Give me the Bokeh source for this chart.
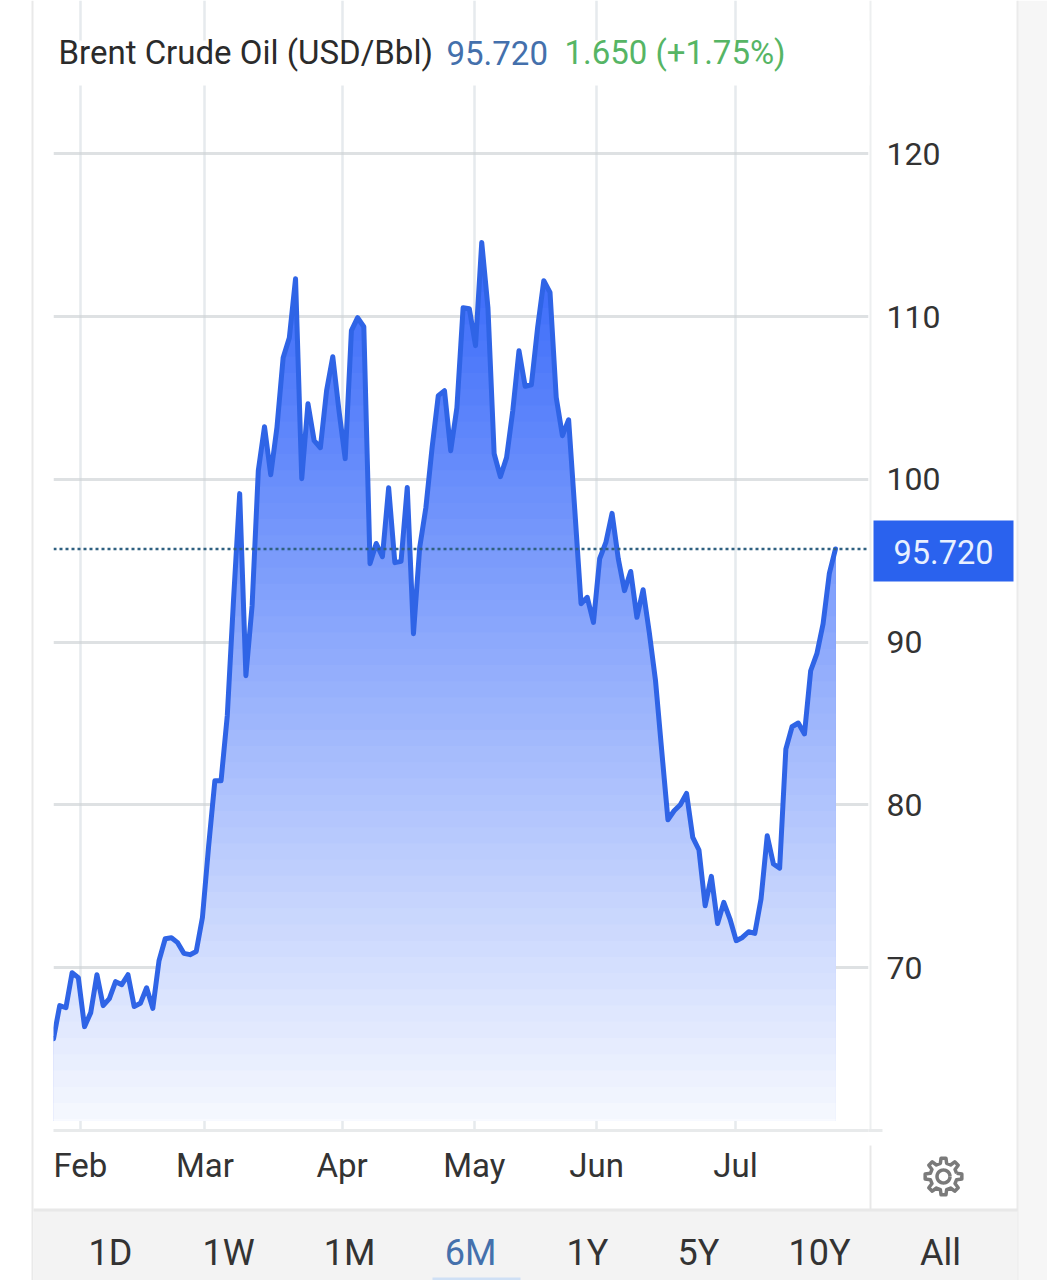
import numpy as np
from bokeh.plotting import figure
from bokeh.models import Column, Row
from bokeh.embed import file_html
from bokeh.resources import INLINE
from bokeh.core.properties import value
from bokeh.models import Range1d, FixedTicker, LinearAxis, Grid, Span

# ---- data (one value per trading session) ----
prices = [65.64, 67.67, 67.54, 69.69, 69.39, 66.38, 67.24, 69.57, 67.67, 68.10,
          69.14, 68.96, 69.57, 67.62, 67.81, 68.77, 67.50, 70.43, 71.78, 71.84,
          71.54, 70.88, 70.80, 71.00, 73.09, 77.49, 81.49, 81.49, 85.48, 92.54,
          99.12, 87.94, 92.24, 100.53, 103.23, 100.28, 103.17, 107.47, 108.70, 112.32,
          100.04, 104.64, 102.37, 101.94, 105.44, 107.53, 104.21, 101.27, 109.13, 109.93,
          109.37, 94.82, 96.06, 95.25, 99.48, 94.88, 94.96, 99.50, 90.52, 95.80,
          98.26, 101.94, 105.14, 105.44, 101.76, 104.40, 110.54, 110.48, 108.21, 114.55,
          110.54, 101.57, 100.16, 101.33, 104.21, 107.90, 105.71, 105.81, 109.31, 112.20,
          111.48, 105.03, 102.68, 103.66, 98.07, 92.36, 92.75, 91.21, 95.12, 96.12,
          97.91, 95.12, 93.16, 94.34, 91.52, 93.22, 90.58, 87.63, 83.33, 79.09,
          79.64, 80.01, 80.71, 78.00, 77.23, 73.81, 75.61, 72.72, 74.01, 72.99,
          71.66, 71.86, 72.21, 72.11, 74.22, 78.11, 76.37, 76.12, 83.43, 84.80,
          85.03, 84.36, 88.24, 89.29, 91.13, 94.20, 95.72]
month_labels = ["Feb", "Mar", "Apr", "May", "Jun", "Jul"]
month_sessions = [4.34, 24.4, 46.5, 67.8, 87.5, 109.9]
price_ticks = [70, 80, 90, 100, 110, 120]
last_price = 95.72
title_name = "Brent Crude Oil (USD/Bbl)"
title_price = "95.720"
title_change = "1.650 (+1.75%)"
price_label = "95.720"
ranges = ["1D", "1W", "1M", "6M", "1Y", "5Y", "10Y", "All"]

FONT = "Roboto"
W, H = 1047, 1280
FL, FR, FT, FB = 53, 868, 0, 1130        # plot frame, in page pixels

n = len(prices)
step = 782 / (n - 1)
x_end = (FR - FL) / step
y_end = 60 + (FB - FT) / 16.28

p = figure(width=W, height=H, output_backend="svg", toolbar_location=None,
           x_range=Range1d(0, x_end), y_range=Range1d(60, y_end),
           x_axis_location=None, y_axis_location=None,
           min_border_left=FL, min_border_right=W - FR,
           min_border_top=0, min_border_bottom=H - FB,
           outline_line_color=None, background_fill_color="white",
           border_fill_color="white")
p.grid.visible = False

month_ticker = FixedTicker(ticks=month_sessions)
price_ticker = FixedTicker(ticks=price_ticks)
p.add_layout(Grid(dimension=0, ticker=month_ticker, grid_line_color="#f0f3f5",
                  grid_line_width=2.5, level="underlay"))
p.add_layout(Grid(dimension=1, ticker=price_ticker, grid_line_color="#ebeced",
                  grid_line_width=3, level="underlay"))

# Gradient area: opaque bands painted from the darkest downward
xs = np.arange(n, dtype=float)
vals = np.array(prices)
xf = np.linspace(0, n - 1, (n - 1) * 12 + 1)
vf = np.interp(xf, xs, vals)
c0 = np.array([52, 102, 250])
c1 = np.array([248, 250, 255])
levels = np.linspace(115.5, 60.7, 56)
for L in levels:
    t = (115.5 - L) / 54.8
    r, g, b = (c0 + (c1 - c0) * t).astype(int)
    p.varea(xf, 60.6, np.minimum(vf, L), fill_color=f"#{r:02x}{g:02x}{b:02x}")

p.add_layout(Grid(dimension=0, ticker=month_ticker, grid_line_color="#8fa0b0",
                  grid_line_alpha=0.10, grid_line_width=2.5))
p.add_layout(Grid(dimension=1, ticker=price_ticker, grid_line_color="#8090a0",
                  grid_line_alpha=0.12, grid_line_width=3))

p.line(xs, vals, line_color="#2f64e6", line_width=5, line_join="round", line_cap="round")
p.add_layout(Span(location=last_price, dimension="width", line_color="#2f6080",
                  line_width=2.5, line_dash="3 3"))

# Axes
xaxis = LinearAxis(ticker=month_ticker,
                   major_label_overrides=dict(zip(month_sessions, month_labels)))
xaxis.axis_line_color = "#e8eaeb"
xaxis.axis_line_width = 3
xaxis.major_tick_line_color = None
xaxis.minor_tick_line_color = None
xaxis.major_label_text_font = FONT
xaxis.major_label_text_font_size = "33px"
xaxis.major_label_text_color = "#333333"
xaxis.major_label_standoff = 9
p.add_layout(xaxis, "below")

yaxis = LinearAxis(ticker=price_ticker)
yaxis.axis_line_color = None
yaxis.major_tick_line_color = None
yaxis.minor_tick_line_color = None
yaxis.major_label_text_font = FONT
yaxis.major_label_text_font_size = "32px"
yaxis.major_label_text_color = "#333333"
yaxis.major_label_standoff = 12
p.add_layout(yaxis, "right")

# ---- page furniture: a transparent full-page figure stacked over the chart ----
chrome = figure(width=W, height=H, output_backend="svg", toolbar_location=None,
                x_range=Range1d(0, W), y_range=Range1d(H, 0),
                x_axis_location=None, y_axis_location=None,
                min_border=0, outline_line_color=None,
                background_fill_alpha=0, border_fill_alpha=0)
chrome.grid.visible = False


def box(l, r, t, b, color):
    chrome.quad(left=[l], right=[r], top=[t], bottom=[b], fill_color=color, line_alpha=0)


def label(x, y, text, color, size, align="left"):
    chrome.text([x], [y], text=[text], text_color=color, text_font=value(FONT),
                text_font_size=f"{size}px", text_align=align, text_baseline="middle")


box(31, 33, 0, 1280, "#e9e9e9")
box(1017, 1047, 0, 1280, "#f6f6f6")
box(1016, 1018, 0, 1280, "#ebebeb")
box(869, 871, 0, 1130, "#edeff0")
box(869, 871, 1145, 1209, "#e8e8e8")
box(868, 882, 1128.5, 1131.5, "#e8eaeb")
box(33, 1017, 1210, 1280, "#f3f3f3")
box(33, 1017, 1208, 1211, "#e8e8e8")
box(432, 520, 1277, 1280, "#cfe0f5")

# Header (white strip over the grid)
box(53, 869, 40, 85, "#ffffff")
label(58, 52, title_name, "#2b2b2b", 33)
label(446, 52, title_price, "#4470ac", 33)
label(564, 52, title_change, "#56b565", 33)

# Last price tag
box(873, 1013, 520, 581, "#2a62ee")
label(943, 551, price_label, "#e8f0ff", 32.5, "center")

# Range selector
for name, x in zip(ranges, [110, 228, 349, 470, 587, 698, 819, 940]):
    label(x, 1252, name, "#4470ac" if name == "6M" else "#333333", 36, "center")

# Gear icon
gx, gy = 943, 1176
teeth = 8
ang, rad = [], []
for k in range(teeth):
    a = 2 * np.pi * k / teeth
    w = 2 * np.pi / teeth
    ang += [a - 0.30 * w, a - 0.17 * w, a + 0.17 * w, a + 0.30 * w]
    rad += [13.5, 18.5, 18.5, 13.5]
ang, rad = np.array(ang + ang[:1]), np.array(rad + rad[:1])
chrome.line(gx + rad * np.cos(ang), gy + rad * np.sin(ang), line_color="#7a7a7a",
            line_width=3.5, line_join="round")
th = np.linspace(0, 2 * np.pi, 33)
chrome.line(gx + 6.5 * np.cos(th), gy + 6.5 * np.sin(th), line_color="#7a7a7a", line_width=3.5)

layout = Column(children=[p, Row(children=[chrome], margin=(-H, 0, 0, 0))], spacing=0)
open("out.html", "w").write(file_html(layout, INLINE))
